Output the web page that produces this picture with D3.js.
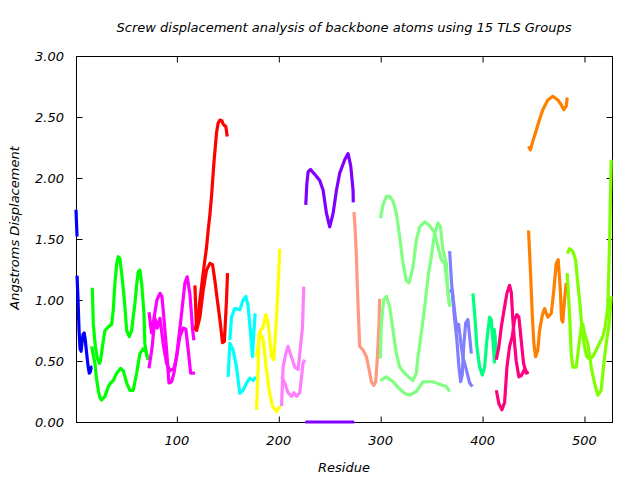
<!DOCTYPE html>
<html><head><meta charset="utf-8">
<script src="https://cdn.jsdelivr.net/npm/d3@7"></script>
<style>
body{margin:0;background:#fff;}
text{font-family:"DejaVu Sans",sans-serif;font-style:italic;fill:#000;}
</style></head>
<body><svg id="c" width="640" height="480"></svg>
<script>
const titleText = "Screw displacement analysis of backbone atoms using 15 TLS Groups";
const xLabel = "Residue";
const yLabel = "Angstroms Displacement";
const xTicks = [100, 200, 300, 400, 500];
const yTicks = [0, 0.5, 1.0, 1.5, 2.0, 2.5, 3.0];
const groupColors = ["#0000ff","#00ff00","#ff00ff","#ff0000","#00ffff","#ffff00","#ff80ff","#8000ff","#ff9980","#80ff80","#8080ff","#00ff80","#ff0080","#ff8000","#80ff00"];

// each group: list of lines, each line: [residue, displacement]
const g1a = [[1,1.74],[2,1.52]];
const g1b = [[2,1.20],[3,1.0],[4,0.75],[5,0.60],[6,0.58],[7,0.66],[8,0.72],[9,0.73],[10,0.68],[11,0.60],[12,0.52],[13,0.45],[14,0.40],[15,0.41],[16,0.45],[17,0.45]];
const g2a = [[17,1.10],[18,0.80],[20,0.62],[22,0.52],[24,0.48],[25,0.50],[27,0.62],[29.4,0.75],[32.7,0.78],[36,0.80],[37.6,0.92],[39.2,1.14],[41,1.30],[42.5,1.355],[44,1.34],[45.8,1.22],[47.5,1.08],[49,0.945],[50.7,0.75],[53.3,0.70],[55.6,0.75],[57,0.85],[58.8,0.97],[60.5,1.12],[62,1.23],[63.7,1.245],[65.4,1.14],[67.7,0.89],[68.6,0.64],[70.3,0.55],[71.9,0.51]];
const g2b = [[16.4,0.62],[19.6,0.48],[21,0.36],[22.9,0.26],[24.5,0.20],[26.2,0.18],[29.4,0.21],[32.7,0.29],[35,0.32],[37.6,0.34],[40.9,0.40],[44.8,0.44],[47.4,0.42],[50.7,0.32],[53.9,0.26],[57.2,0.26],[60.5,0.40],[63.7,0.56],[67,0.60],[69.6,0.58],[71.9,0.51]];
const g3a = [[72.6,0.90],[75.2,0.73],[78.5,0.90],[80.4,1.00],[83.4,1.055],[85.3,1.03],[87.3,0.85],[89.9,0.59],[92.2,0.32],[94.8,0.33],[97.1,0.40],[99.7,0.535],[102,0.70],[104.6,0.89],[107.9,1.14],[110.1,1.19],[112.8,1.05],[115.4,0.76],[116.7,0.67]];
const g3b = [[72.6,0.44],[75.5,0.60],[78.5,0.85],[80.7,0.77],[83.4,0.85],[86.6,0.64],[89.9,0.48],[93.2,0.42],[97.1,0.44],[99.7,0.535],[102.9,0.70],[106.2,0.77],[108.8,0.76],[111.1,0.59],[113.5,0.40],[117.7,0.40]];
const g4a = [[117.7,0.75],[120.6,0.85],[122.6,1.0],[125.5,1.2],[127.5,1.33],[129.1,1.43],[130.7,1.57],[132.4,1.70],[134,1.85],[136.3,2.12],[138.9,2.37],[140.5,2.45],[142.2,2.475],[144.1,2.47],[145.4,2.44],[148.1,2.42],[149.4,2.34]];
const g4b = [[117.7,1.12],[119.3,0.75],[122.6,0.86],[125.8,1.08],[129.1,1.245],[132.4,1.30],[135,1.29],[137.3,1.16],[139.2,1.03],[142.2,0.84],[144.8,0.65],[146.6,0.66],[148.7,1.0],[149.7,1.22]];
const g5a = [[150.3,0.37],[152,0.645],[155.2,0.59],[158.5,0.45],[161.8,0.235],[165,0.26],[168.4,0.32],[171.6,0.36],[174.8,0.34],[177.5,0.37]];
const g5b = [[152,0.67],[153.6,0.86],[156.9,0.93],[161.8,0.92],[165,1.0],[167.7,1.03],[169.9,0.95],[172.3,0.73],[174.2,0.535],[175.5,0.73],[176.8,0.89]];
const g6a = [[178.2,0.10],[179.7,0.45],[180.7,0.73],[184.6,0.78],[187.3,0.88],[189.5,0.81],[192.9,0.535],[195.1,0.51],[197.8,0.86],[199.4,1.13],[201,1.42]];
const g6b = [[178.2,0.535],[181.4,0.73],[184.6,0.68],[187.3,0.47],[190.5,0.26],[193.8,0.13],[197.8,0.085],[201,0.13]];
const g7a = [[202.7,0.13],[204.2,0.45],[206.9,0.56],[209.1,0.62],[212.5,0.53],[215.7,0.45],[219,0.43],[220.6,0.56],[223.3,0.78],[224.5,1.11]];
const g7b = [[202.7,0.37],[205.9,0.32],[209.1,0.24],[212.5,0.21],[214.7,0.24],[217.4,0.21],[220.6,0.24],[223.8,0.48],[225.5,0.51]];
const g8a = [[226.5,1.78],[227.5,1.95],[228.8,2.05],[231.1,2.07],[235.3,2.03],[240.2,1.98],[243.5,1.90],[246.8,1.71],[250,1.60],[253.3,1.71],[256.6,1.90],[259.8,2.04],[264.7,2.15],[268,2.20],[270.6,2.10],[272.9,1.90],[273.1,1.80]];
const g8b = [[226,0],[235,0],[245,0],[255,0],[265,0],[274,0]];
const g9a = [[273.8,1.72],[274.8,1.60],[276.2,1.355],[277.2,1.08],[278.5,0.81],[279.4,0.62],[282.7,0.59],[286,0.535],[288.6,0.43],[290.9,0.33],[293.2,0.30],[295.1,0.33],[296.8,0.535],[298.4,0.81],[299,1.01]];
const g10a = [[299.7,1.67],[302.3,1.78],[305.6,1.85],[308.8,1.85],[312.1,1.81],[315.4,1.71],[318.6,1.52],[321.9,1.30],[325.2,1.16],[327.8,1.14],[331.7,1.27],[335,1.49],[338.3,1.60],[343.2,1.64],[348.1,1.61],[353,1.55],[356.2,1.44],[359.5,1.33],[362.8,1.30],[366,1.08],[367.7,0.945]];
const g10b = [[299.7,0.52],[300.6,0.80],[302.9,1.0],[305.6,1.03],[308.8,0.945],[312.1,0.75],[315.4,0.56],[318.6,0.45],[323.5,0.40],[328.5,0.36],[331.7,0.34],[335,0.40],[336.6,0.535],[339.9,0.73],[343.2,0.945],[346.5,1.19],[349.7,1.355],[353,1.55],[356.2,1.63],[358.6,1.60],[361.1,1.41],[364.4,1.30],[366,1.055],[367.7,0.95]];
const g10c = [[299.7,0.34],[305.6,0.37],[312.1,0.33],[318.6,0.27],[323.5,0.235],[328.5,0.22],[335,0.25],[341.5,0.33],[351.3,0.33],[357.9,0.31],[364.4,0.29],[367.7,0.25]];
const g11a = [[367.7,1.40],[369.4,1.16],[370.9,1.0],[372.6,0.84],[374.8,0.67],[376.8,0.45],[378.5,0.33],[380.1,0.39],[381.4,0.62],[383.4,0.81],[385.6,0.84],[387.3,0.70],[389,0.56]];
const g11b = [[367.7,1.07],[370.3,1.08],[372.6,0.90],[374.8,0.75],[376.5,0.80],[379.1,0.62],[380.7,0.53],[384,0.43],[387.3,0.32],[390,0.29]];
const g12a = [[390.5,1.055],[392.2,0.89],[394.4,0.62],[397.1,0.45],[399.7,0.385],[402,0.45],[404.2,0.67],[406.9,0.86],[408.5,0.84],[410.1,0.67],[411.8,0.48]];
const g12b = [[411.1,0.77],[412.3,0.70],[413.7,0.52]];
const g13a = [[413.5,0.26],[416,0.15],[419,0.10],[421.6,0.16],[423.9,0.45],[426.5,0.62],[429.1,0.70],[431.4,0.84],[433.6,0.88],[435.6,0.86],[437.9,0.67],[440.2,0.48],[442.9,0.40],[445.1,0.41]];
const g13b = [[413.5,0.51],[416,0.62],[418.4,0.78],[421.6,0.945],[423.9,1.055],[426.5,1.12],[428.2,1.06],[429.7,0.84],[431.4,0.645],[433,0.50],[435.6,0.37],[437.9,0.38],[441.2,0.43],[444.4,0.40]];
const g14a = [[445.1,2.26],[446.8,2.23],[449.3,2.30],[452.6,2.39],[455.9,2.48],[459.1,2.56],[464,2.64],[468.9,2.67],[473.8,2.64],[477.2,2.60],[479.7,2.56],[482.1,2.59],[483,2.66]];
const g14b = [[445.1,1.57],[446.8,1.27],[448.7,0.89],[450.3,0.645],[452,0.535],[454.2,0.59],[455.9,0.75],[458.5,0.87],[460.8,0.93],[464,0.86],[467.4,0.89],[469.6,1.055],[472.3,1.30],[474.2,1.33],[476.2,1.10],[477.5,0.84],[478.7,0.82],[480.4,1.0],[482.1,1.14]];
const g15a = [[483,1.38],[485.3,1.42],[488.5,1.40],[491.2,1.33],[493.4,1.14],[495.8,0.945],[497.7,0.75],[500,0.62],[502.2,0.535],[504.9,0.52],[508.1,0.535],[511.5,0.59],[514.7,0.645],[517.9,0.70],[520.3,0.78],[522.9,0.945],[524.5,1.44],[526.2,2.15]];
const g15b = [[483,1.22],[485.3,0.89],[487,0.56],[488.5,0.45],[491.9,0.45],[494.4,0.62],[496.8,0.78],[498.4,0.80],[500,0.73],[503.3,0.64],[506.6,0.45],[509.8,0.32],[513.1,0.22],[516.4,0.26],[518.6,0.45],[521.3,0.645],[523.9,0.78],[526.2,1.03]];

const groups = [[g1a,g1b],[g2a,g2b],[g3a,g3b],[g4a,g4b],[g5a,g5b],[g6a,g6b],[g7a,g7b],[g8a,g8b],[g9a],[g10a,g10b,g10c],[g11a,g11b],[g12a,g12b],[g13a,g13b],[g14a,g14b],[g15a,g15b]];

const svg = d3.select("#c");
const L = 76, R = 612, T = 56, B = 422;
const x = d3.scaleLinear().domain([1, 527]).range([L, R]);
const y = d3.scaleLinear().domain([0, 3]).range([B, T]);

// border
svg.append("rect").attr("x", L+0.5).attr("y", T+0.5).attr("width", R-L).attr("height", B-T)
  .attr("fill","none").attr("stroke","#000").attr("stroke-width",1);

// axes with gnuplot-style inward ticks
const fmt = d3.format(".2f");
const ax = (sel) => sel.selectAll(".domain").remove();
svg.append("g").attr("transform",`translate(0,${B+0.5})`)
  .call(d3.axisTop(x).tickValues(xTicks).tickSize(6).tickFormat(""))
  .call(ax);
svg.append("g").attr("transform",`translate(0,${T+0.5})`)
  .call(d3.axisBottom(x).tickValues(xTicks).tickSize(6).tickFormat(""))
  .call(ax);
svg.append("g").attr("transform",`translate(${L+0.5},0)`)
  .call(d3.axisRight(y).tickValues(yTicks).tickSize(6).tickFormat(""))
  .call(ax);
svg.append("g").attr("transform",`translate(${R+0.5},0)`)
  .call(d3.axisLeft(y).tickValues(yTicks).tickSize(6).tickFormat(""))
  .call(ax);
svg.selectAll(".tick line").attr("stroke","#000");

// tick labels
svg.append("g").selectAll("text").data(xTicks).join("text")
  .attr("x", d => x(d)).attr("y", 445).attr("text-anchor","middle")
  .attr("font-size", 13).text(d => d);
svg.append("g").selectAll("text").data(yTicks).join("text")
  .attr("x", 64).attr("y", d => y(d) + 5).attr("text-anchor","end")
  .attr("font-size", 13).text(d => fmt(d));

// titles
svg.append("text").attr("x", (L+R)/2).attr("y", 32).attr("text-anchor","middle")
  .attr("font-size", 13).text(titleText);
svg.append("text").attr("x", (L+R)/2).attr("y", 472).attr("text-anchor","middle")
  .attr("font-size", 13).text(xLabel);
svg.append("text").attr("transform","translate(19,228) rotate(-90)").attr("text-anchor","middle")
  .attr("font-size", 13).text(yLabel);

// lines
const line = d3.line().x(d => x(d[0])).y(d => y(d[1]));
groups.forEach((lines, gi) => {
  lines.forEach(pts => {
    svg.append("path").datum(pts).attr("d", line)
      .attr("fill","none").attr("stroke", groupColors[gi])
      .attr("stroke-width", 3.2).attr("stroke-linejoin","round").attr("stroke-linecap","butt");
  });
});
</script></body></html>
